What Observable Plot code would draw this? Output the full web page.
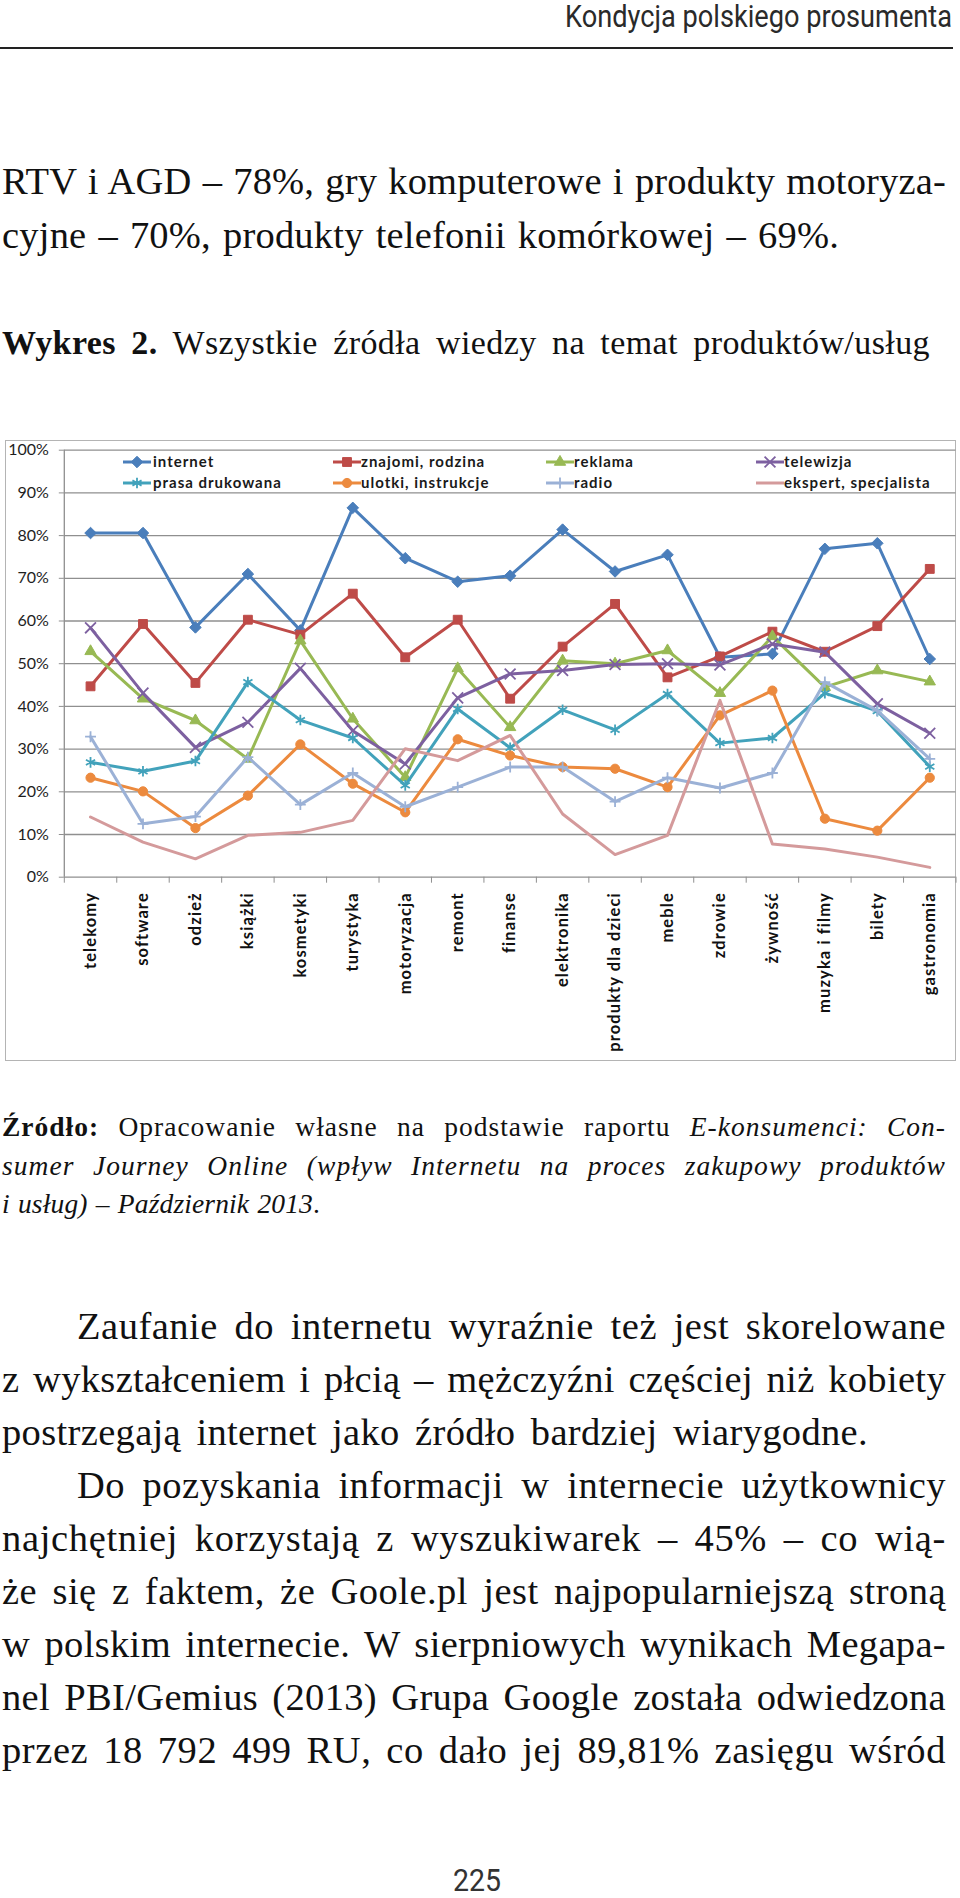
<!DOCTYPE html>
<html><head><meta charset="utf-8">
<script src="https://cdn.jsdelivr.net/npm/d3@7"></script>
<script src="https://cdn.jsdelivr.net/npm/@observablehq/plot@0.6"></script>
<style>
html,body{margin:0;padding:0;background:#fff;}
body{width:960px;height:1898px;position:relative;overflow:hidden;}
.ln{position:absolute;white-space:nowrap;color:#111;}
#chart{position:absolute;left:0;top:440px;}
#frame{position:absolute;left:5px;top:440px;width:951px;height:621px;border:1.5px solid #b4b4b4;box-sizing:border-box;}
#chart svg text{font-family:Lato,"Open Sans",sans-serif;}
g[aria-label="y-axis tick label"], g[aria-label="y-axis tick label"] text{fill:#1e1e1e;}
g[aria-label="x-axis tick label"] text{fill:#111;letter-spacing:1.1px;font-weight:bold;}
.leg{position:absolute;}
.legt{position:absolute;font-family:Lato,sans-serif;font-weight:bold;font-size:15px;letter-spacing:1px;color:#1a1a1a;white-space:nowrap;line-height:1.2;}
</style></head><body>
<div id="frame"></div>
<div id="chart"></div>
<script>
// ---------- data ----------
const categories = ["telekomy","software","odzież","książki","kosmetyki","turystyka","motoryzacja","remont","finanse","elektronika","produkty dla dzieci","meble","zdrowie","żywność","muzyka i filmy","bilety","gastronomia"];
const seriesNames = ["internet","znajomi, rodzina","reklama","telewizja","prasa drukowana","ulotki, instrukcje","radio","ekspert, specjalista"];
const internet  = [80.6,80.6,58.5,71.0,57.8,86.5,74.7,69.2,70.6,81.4,71.6,75.5,51.5,52.3,76.9,78.2,51.1];
const znajomi   = [44.7,59.3,45.5,60.3,56.8,66.4,51.5,60.3,41.8,54.0,64.0,46.8,51.7,57.5,52.8,58.8,72.2];
const reklama   = [52.9,41.8,36.7,27.7,55.4,37.1,23.4,48.9,35.1,50.7,50.0,53.1,43.1,56.4,44.5,48.4,45.8];
const telewizja = [58.4,43.1,30.4,36.3,48.9,34.3,26.5,42.0,47.6,48.4,49.8,50.0,49.7,54.6,52.7,40.6,33.7];
const prasa     = [26.9,24.8,27.2,45.7,36.8,32.6,21.5,39.4,30.3,39.2,34.5,42.9,31.4,32.6,43.1,38.9,25.9];
const ulotki    = [23.3,20.1,11.5,19.1,31.1,21.9,15.2,32.3,28.5,25.8,25.4,21.1,37.9,43.7,13.7,10.9,23.3];
const radio     = [32.9,12.5,14.2,28.1,17.0,24.4,16.5,21.1,25.8,25.8,17.7,23.3,20.9,24.4,45.7,39.0,27.7];
const ekspert   = [14.1,8.2,4.3,9.8,10.5,13.3,30.1,27.3,33.2,14.8,5.3,9.8,41.4,7.8,6.6,4.7,2.3];
const yTicks = [0,10,20,30,40,50,60,70,80,90,100];

// ---------- styles per series ----------
const seriesValues = [internet,znajomi,reklama,telewizja,prasa,ulotki,radio,ekspert];
const colors = ["#4a7ebb","#be4b48","#98b954","#7d60a0","#42a2bb","#ec8a3e","#9bb1d6","#d49a9b"];
const symbols = ["diamond2","square","triangle","times","asterisk","circle","plus",null];
const filled = [true,true,true,false,false,true,false,false];
const radii = [5.2,5.0,4.2,5.0,5.0,4.6,3.6,0];

const rows = [];
seriesNames.forEach((s, k) => seriesValues[k].forEach((v, i) => rows.push({series: s, k, i, cat: categories[i], v})));

// ---------- chart ----------
const marks = [
  Plot.gridY(yTicks, {stroke: "#8f8f8f", strokeOpacity: 1, strokeWidth: 1.3}),
  Plot.ruleX([-0.5], {stroke: "#8f8f8f", strokeWidth: 1.3}),
  Plot.axisY(yTicks, {tickSize: 5, tickPadding: 10.5, tickFormat: d => d + "%", color: "#8f8f8f", fontSize: 16, label: null}),
  Plot.axisX(d3.range(-0.5, 17, 1), {tickSize: 6, tickFormat: () => "", color: "#8f8f8f", label: null}),
  Plot.axisX(d3.range(categories.length), {tickSize: 0, tickPadding: 15, tickRotate: -90, tickFormat: i => categories[i], fontSize: 16.5, fontWeight: "bold", label: null})
];
seriesNames.forEach((s, k) => {
  const data = rows.filter(d => d.k === k);
  marks.push(Plot.line(data, {x: "i", y: "v", stroke: colors[k], strokeWidth: 3, strokeLinejoin: "round", strokeLinecap: "round"}));
  if (symbols[k]) {
    marks.push(Plot.dot(data, {x: "i", y: "v", symbol: () => symbols[k], r: radii[k],
      fill: filled[k] ? colors[k] : "none", stroke: colors[k], strokeWidth: filled[k] ? 1 : 1.8}));
  }
});

const chart = Plot.plot({
  width: 960, height: 621,
  marginTop: 9.7, marginBottom: 184.3, marginLeft: 63.8, marginRight: 4.5,
  x: {type: "linear", domain: [-0.5, 16.5]},
  y: {domain: [0, 100]},
  style: {background: "none", fontFamily: "Lato, sans-serif", overflow: "visible"},
  marks
});
document.getElementById("chart").appendChild(chart);

// ---------- legend (HTML overlay) ----------
const legCols = [{sx:123, tx:153},{sx:333, tx:361},{sx:546, tx:574},{sx:756, tx:784}];
const legRows = [{cy:462, base:467},{cy:483, base:488}];
const body = document.body;
seriesNames.forEach((s, k) => {
  const c = legCols[k % 4], r = legRows[Math.floor(k / 4)];
  const svg = d3.create("svg").attr("width", 30).attr("height", 16)
    .attr("class", "leg").style("left", (c.sx - 1) + "px").style("top", (r.cy - 8) + "px");
  svg.append("line").attr("x1", 1).attr("x2", 29).attr("y1", 8).attr("y2", 8)
    .attr("stroke", colors[k]).attr("stroke-width", 3);
  if (symbols[k]) {
    const symMap = {diamond2: d3.symbolDiamond2, square: d3.symbolSquare, triangle: d3.symbolTriangle, times: d3.symbolTimes, asterisk: d3.symbolAsterisk, circle: d3.symbolCircle, plus: d3.symbolPlus};
    svg.append("path").attr("transform", "translate(15,8)")
      .attr("d", d3.symbol(symMap[symbols[k]], Math.PI * radii[k] * radii[k])())
      .attr("fill", filled[k] ? colors[k] : "none").attr("stroke", colors[k]).attr("stroke-width", filled[k] ? 1 : 1.8);
  }
  body.appendChild(svg.node());
  const t = document.createElement("div");
  t.className = "legt";
  t.textContent = s;
  t.style.left = c.tx + "px";
  const probe = document.createElement("span");
  probe.style.cssText = "display:inline-block;width:0;height:0;";
  t.appendChild(probe);
  t.style.top = "0px";
  body.appendChild(t);
  const off = probe.getBoundingClientRect().top - t.getBoundingClientRect().top;
  t.style.top = (r.base - off) + "px";
});

// ---------- page text ----------
const SERIF = '"Liberation Serif","Times New Roman",serif';
const NARROW = '"Liberation Sans Narrow","Arial Narrow",Roboto,sans-serif';
function addLine(o) {
  const el = document.createElement("div");
  el.className = "ln";
  el.style.left = o.left + "px";
  el.style.fontFamily = o.family;
  el.style.fontSize = o.size + "px";
  el.style.lineHeight = "1.2";
  if (o.color) el.style.color = o.color;
  if (o.weight) el.style.fontWeight = o.weight;
  el.innerHTML = o.html;
  const probe = document.createElement("span");
  probe.style.cssText = "display:inline-block;width:0;height:0;";
  el.appendChild(probe);
  el.style.top = "0px";
  body.appendChild(el);
  const text = el.textContent;
  const n = [...text].length;
  const spaces = (text.match(/ /g) || []).length;
  const w0 = el.getBoundingClientRect().width;
  if (o.scale) {
    el.style.transformOrigin = "0 0";
    el.style.transform = "scaleX(" + (o.width / w0) + ")";
  } else {
    const extra = o.width - w0;
    const share = o.share == null ? 0.4 : o.share;
    const ls = spaces ? extra * share / n : extra / n;
    const ws = spaces ? (extra - ls * n) / spaces : 0;
    el.style.letterSpacing = ls + "px";
    el.style.wordSpacing = ws + "px";
  }
  const off = probe.getBoundingClientRect().top - el.getBoundingClientRect().top;
  el.style.top = (o.baseline - off) + "px";
}
// header
addLine({html: "Kondycja polskiego prosumenta", left: 565, width: 387, baseline: 27, size: 32, family: NARROW, color: "#2a2a2a", scale: true});
const rule = document.createElement("div");
rule.style.cssText = "position:absolute;left:0;top:46.5px;width:953px;height:2.3px;background:#222;";
body.appendChild(rule);
// first paragraph
addLine({html: "RTV i AGD – 78%, gry komputerowe i produkty motoryza-", left: 2, width: 944, baseline: 194, size: 38.5, family: SERIF});
addLine({html: "cyjne – 70%, produkty telefonii komórkowej – 69%.", left: 2, width: 837, baseline: 248, size: 38.5, family: SERIF});
// figure title
addLine({html: "<b>Wykres 2.</b> Wszystkie źródła wiedzy na temat produktów/usług", left: 2, width: 928, baseline: 354, size: 34, family: SERIF, share: 0.35});
// source
addLine({html: "<b>Źródło:</b> Opracowanie własne na podstawie raportu <i>E-konsumenci: Con-</i>", left: 2, width: 944, baseline: 1136, size: 27.5, family: SERIF, share: 0.45});
addLine({html: "<i>sumer Journey Online (wpływ Internetu na proces zakupowy produktów</i>", left: 2, width: 944, baseline: 1175, size: 27.5, family: SERIF, share: 0.45});
addLine({html: "<i>i usług) – Październik 2013</i>.", left: 2, width: 318, baseline: 1213, size: 27.5, family: SERIF, share: 0.45});
// body
const bodyLines = [
  ["Zaufanie do internetu wyraźnie też jest skorelowane", 77, 946],
  ["z wykształceniem i płcią – mężczyźni częściej niż kobiety", 2, 946],
  ["postrzegają internet jako źródło bardziej wiarygodne.", 2, 868],
  ["Do pozyskania informacji w internecie użytkownicy", 77, 946],
  ["najchętniej korzystają z wyszukiwarek – 45% – co wią-", 2, 946],
  ["że się z faktem, że Goole.pl jest najpopularniejszą stroną", 2, 946],
  ["w polskim internecie. W sierpniowych wynikach Megapa-", 2, 946],
  ["nel PBI/Gemius (2013) Grupa Google została odwiedzona", 2, 946],
  ["przez 18 792 499 RU, co dało jej 89,81% zasięgu wśród", 2, 946]
];
bodyLines.forEach(([t, l, r], j) => addLine({html: t, left: l, width: r - l, baseline: 1339 + j * 53, size: 38.5, family: SERIF}));
// page number
addLine({html: "225", left: 453, width: 48, baseline: 1891, size: 31, family: NARROW, color: "#333", scale: true});
</script>
</body></html>
